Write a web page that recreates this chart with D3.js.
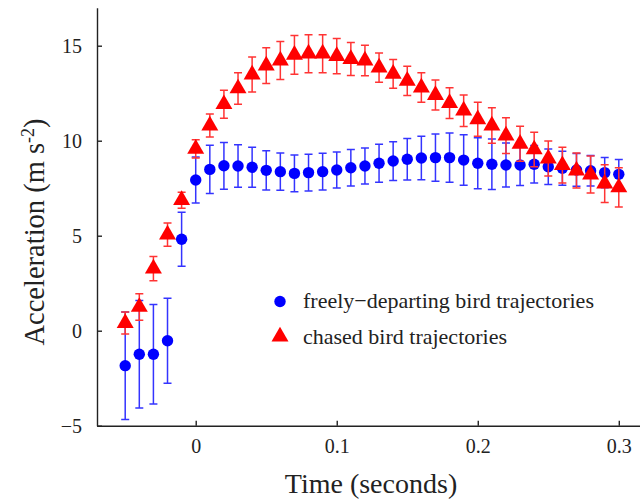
<!DOCTYPE html>
<html>
<head>
<meta charset="utf-8">
<script src="https://cdn.jsdelivr.net/npm/d3@7"></script>
<style>
  body { margin: 0; background: #fff; }
  text { font-family: "Liberation Serif", "Times New Roman", serif; fill: #222; }
  .axis .domain, .axis line { stroke: #222; stroke-width: 1.4; }
  .axis text { font-size: 20px; }
</style>
</head>
<body>
<svg id="chart"></svg>
<script>
// time since take-off (s)
const times = [-0.05, -0.04, -0.03, -0.02, -0.01,
  0, 0.01, 0.02, 0.03, 0.04, 0.05, 0.06, 0.07, 0.08, 0.09, 0.10, 0.11,
  0.12, 0.13, 0.14, 0.15, 0.16, 0.17, 0.18, 0.19, 0.20, 0.21, 0.22, 0.23,
  0.24, 0.25, 0.26, 0.27, 0.28, 0.29, 0.30];

// freely-departing birds
const freeMean = [-1.84, -1.24, -1.24, -0.53, 4.81,
  7.93, 8.49, 8.68, 8.67, 8.60, 8.44, 8.37, 8.28, 8.32, 8.37, 8.46, 8.58,
  8.67, 8.81, 8.93, 9.02, 9.09, 9.11, 9.11, 8.98, 8.81, 8.76, 8.72, 8.72,
  8.76, 8.63, 8.55, 8.46, 8.42, 8.32, 8.23];
const freeErr = [2.83, 2.83, 2.62, 2.24, 1.42,
  1.21, 1.27, 1.23, 1.12, 1.05, 1.03, 0.98, 0.97, 0.97, 0.97, 0.95, 0.96,
  0.95, 1.00, 1.02, 1.09, 1.14, 1.24, 1.30, 1.33, 1.34, 1.33, 1.16, 1.08,
  0.99, 0.93, 0.90, 0.86, 0.80, 0.79, 0.78];

// chased birds
const chasedMean = [0.40, 1.25, 3.27, 5.06, 6.87,
  9.57, 10.80, 11.92, 12.75, 13.48, 13.95, 14.22, 14.52, 14.58, 14.58, 14.45, 14.30,
  14.22, 13.85, 13.52, 13.15, 12.80, 12.40, 11.98, 11.58, 11.13, 10.80, 10.27, 9.84,
  9.54, 9.06, 8.71, 8.43, 8.22, 7.74, 7.54];
const chasedErr = [0.58, 0.70, 0.64, 0.61, 0.42,
  0.48, 0.61, 0.74, 0.83, 0.92, 0.94, 1.00, 1.02, 1.00, 1.00, 0.93, 0.87,
  0.80, 0.77, 0.76, 0.77, 0.77, 0.79, 0.81, 0.83, 0.90, 0.93, 0.94, 0.92,
  0.91, 0.92, 0.94, 0.92, 0.97, 0.99, 1.03];

const xTicks = [0, 0.1, 0.2, 0.3];
const yTicks = [-5, 0, 5, 10, 15];
const legendLabels = ['freely\u2212departing bird trajectories', 'chased bird trajectories'];

class ErrorBarPlot {

  constructor(_config) {
    this.config = {
      parentElement: _config.parentElement,
      containerWidth: 640,
      containerHeight: 499,
      margin: { top: 7.7, right: -7, bottom: 73.3, left: 97 },
      capWidth: 4
    };
    this.initVis();
  }

  initVis() {
    let vis = this;
    const m = vis.config.margin;
    vis.width = vis.config.containerWidth - m.left - m.right;
    vis.height = vis.config.containerHeight - m.top - m.bottom;

    vis.xScale = d3.scaleLinear().domain([-0.07, 0.32]).range([0, vis.width]);
    vis.yScale = d3.scaleLinear().domain([-5, 17]).range([vis.height, 0]);

    vis.xAxis = d3.axisBottom(vis.xScale)
      .tickValues(xTicks)
      .tickSizeInner(-5)
      .tickSizeOuter(0)
      .tickPadding(13)
      .tickFormat(d => d === 0 ? '0' : d3.format('.1f')(d));

    vis.yAxis = d3.axisLeft(vis.yScale)
      .tickValues(yTicks)
      .tickSizeInner(-5)
      .tickSizeOuter(0)
      .tickPadding(15);

    vis.svg = d3.select(vis.config.parentElement)
      .attr('width', vis.config.containerWidth)
      .attr('height', vis.config.containerHeight);

    vis.chartArea = vis.svg.append('g')
      .attr('transform', `translate(${m.left},${m.top})`);

    vis.chartArea.append('g')
      .attr('class', 'axis x-axis')
      .attr('transform', `translate(0,${vis.height})`)
      .call(vis.xAxis);

    vis.chartArea.append('g')
      .attr('class', 'axis y-axis')
      .call(vis.yAxis);

    // axis titles
    vis.svg.append('text')
      .attr('x', 371)
      .attr('y', 493)
      .attr('text-anchor', 'middle')
      .style('font-size', '28px')
      .text('Time (seconds)');

    const yTitle = vis.svg.append('text')
      .attr('transform', 'translate(44,232) rotate(-90)')
      .attr('text-anchor', 'middle')
      .style('font-size', '28.5px');
    yTitle.append('tspan').text('Acceleration (m s');
    yTitle.append('tspan').attr('dy', -10).style('font-size', '18px').text('-2');
    yTitle.append('tspan').attr('dy', 10).text(')');
  }

  updateVis() {
    let vis = this;
    vis.series = [
      { key: 'free', color: '#0000ff', barColor: '#3434ff',
        points: times.map((t, i) => ({ t: t, v: freeMean[i], e: freeErr[i] })) },
      { key: 'chased', color: '#ff0000', barColor: '#ff3434',
        points: times.map((t, i) => ({ t: t, v: chasedMean[i], e: chasedErr[i] })) }
    ];
    vis.renderVis();
  }

  renderVis() {
    let vis = this;
    const x = vis.xScale, y = vis.yScale, cw = vis.config.capWidth;
    const triangle = d3.symbol().type(d3.symbolTriangle).size(125);

    vis.series.forEach(s => {
      const g = vis.chartArea.append('g').attr('class', s.key);

      g.selectAll('.err')
        .data(s.points)
        .join('path')
        .attr('class', 'err')
        .attr('fill', 'none')
        .attr('stroke', s.barColor)
        .attr('stroke-width', 1.5)
        .attr('d', d => {
          const cx = x(d.t), y0 = y(d.v - d.e), y1 = y(d.v + d.e);
          return `M${cx},${y0}V${y1}M${cx - cw},${y1}H${cx + cw}M${cx - cw},${y0}H${cx + cw}`;
        });

      if (s.key === 'free') {
        g.selectAll('.point')
          .data(s.points)
          .join('circle')
          .attr('class', 'point')
          .attr('fill', s.color)
          .attr('r', 5.7)
          .attr('cx', d => x(d.t))
          .attr('cy', d => y(d.v));
      } else {
        g.selectAll('.point')
          .data(s.points)
          .join('path')
          .attr('class', 'point')
          .attr('fill', s.color)
          .attr('d', triangle)
          .attr('transform', d => `translate(${x(d.t)},${y(d.v)})`);
      }
    });

    // legend
    const legend = vis.svg.append('g').attr('class', 'legend');
    legend.append('circle')
      .attr('cx', 280).attr('cy', 301.5).attr('r', 5.7)
      .attr('fill', '#0000ff');
    legend.append('path')
      .attr('d', triangle)
      .attr('transform', 'translate(280,336.5)')
      .attr('fill', '#ff0000');
    legend.selectAll('.legend-label')
      .data(legendLabels)
      .join('text')
      .attr('class', 'legend-label')
      .attr('x', 303)
      .attr('y', (d, i) => 308.3 + i * 35.7)
      .style('font-size', '22px')
      .text(d => d);
  }
}

const chart = new ErrorBarPlot({ parentElement: '#chart' });
chart.updateVis();
</script>
</body>
</html>
